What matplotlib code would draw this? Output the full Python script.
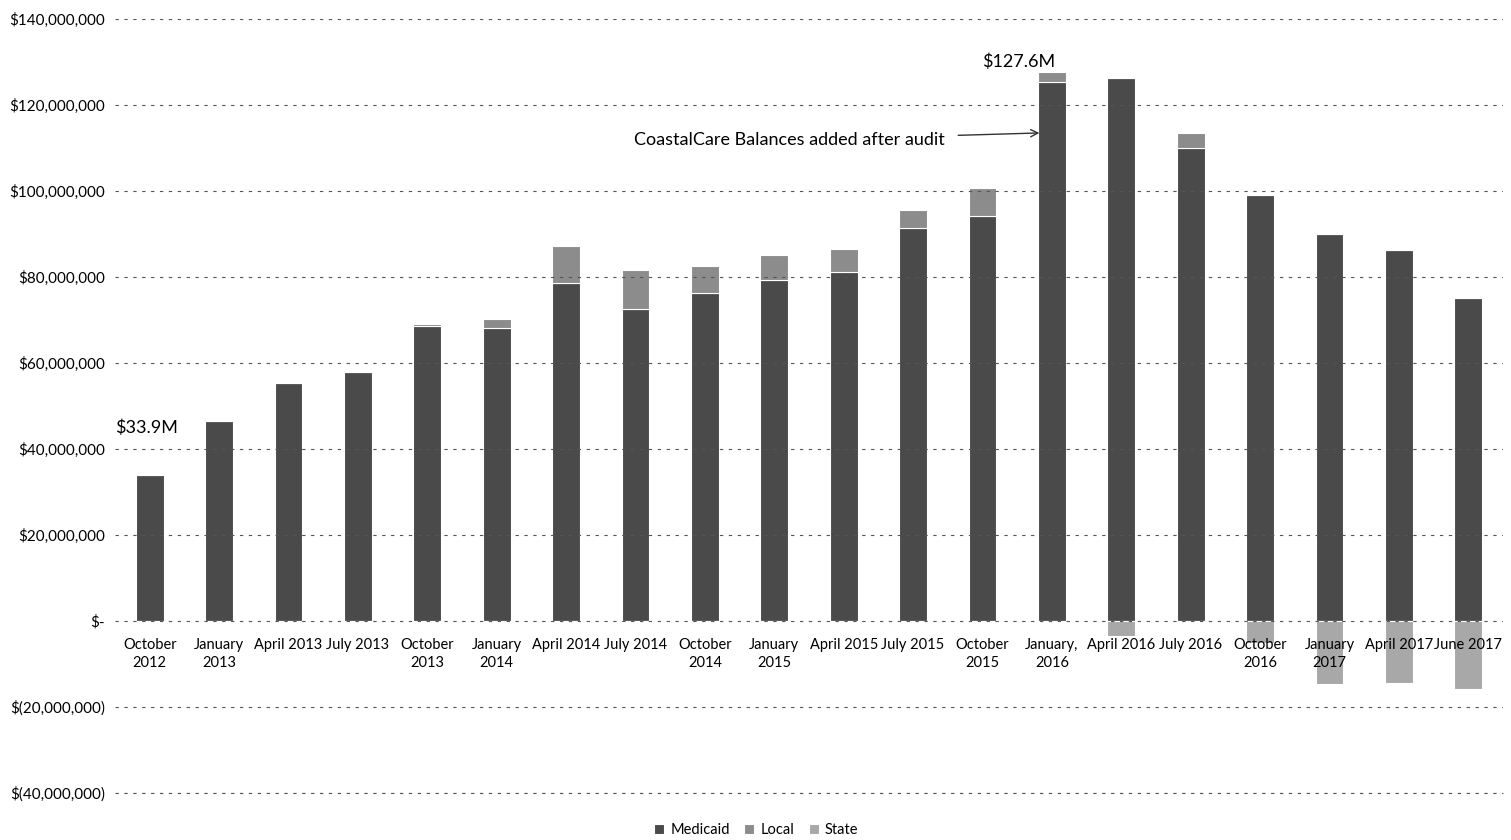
import numpy as np
import matplotlib.pyplot as plt
from matplotlib.ticker import FuncFormatter

# quarter labels on the x axis
periods = ['October\n2012', 'January\n2013', 'April 2013', 'July 2013', 'October\n2013',
           'January\n2014', 'April 2014', 'July 2014', 'October\n2014', 'January\n2015',
           'April 2015', 'July 2015', 'October\n2015', 'January,\n2016', 'April 2016',
           'July 2016', 'October\n2016', 'January\n2017', 'April 2017', 'June 2017']

# balances in $ millions
medicaid = [33.9, 46.5, 55.3, 57.9, 68.6, 68.1, 78.6, 72.5, 76.3, 79.3,
            81.2, 91.4, 94.2, 125.3, 126.3, 110.0, 99.1, 90.0, 86.3, 75.1]
local = [0.0, 0.0, 0.0, 0.0, 0.5, 2.1, 8.7, 9.1, 6.3, 5.8,
         5.3, 4.2, 6.5, 2.3, 0.0, 3.5, 0.0, 0.0, 0.0, 0.0]
state = [0.0, 0.0, 0.0, 0.0, 0.0, 0.0, 0.0, 0.0, 0.0, 0.0,
         0.0, 0.0, 0.0, 0.0, -3.6, 0.0, -5.0, -14.6, -14.4, -15.8]

plt.rcParams['font.family'] = ['Lato', 'DejaVu Sans']

fig = plt.figure(figsize=(15.11, 8.4), dpi=100)
ax = fig.add_axes([115 / 1511, 1 - 793 / 840, (1503 - 115) / 1511, (793 - 19) / 840])

x = np.arange(len(periods))
m = np.array(medicaid) * 1e6
l = np.array(local) * 1e6
s = np.array(state) * 1e6
w = 0.4

ax.bar(x, m, w, color='#4a4a4a', edgecolor='white', linewidth=0.8, label='Medicaid', zorder=1)
ax.bar(x, l, w, bottom=m, color='#8c8c8c', edgecolor='white', linewidth=0.8, label='Local', zorder=1)
ax.bar(x, s, w, color='#a8a8a8', edgecolor='white', linewidth=0.8, label='State', zorder=1)

ax.set_xlim(-0.5, len(periods) - 0.5)
ax.set_ylim(-40e6, 140e6)
ax.set_yticks(np.arange(-40e6, 140e6 + 1, 20e6))


def money(v, pos):
    if abs(v) < 1:
        return '$-'
    if v < 0:
        return '$({:,.0f})'.format(-v)
    return '${:,.0f}'.format(v)


ax.yaxis.set_major_formatter(FuncFormatter(money))
ax.grid(axis='y', color='#555555', linestyle=(0, (3, 5)), linewidth=0.8, zorder=0)
ax.axhline(-40e6, color='#555555', linestyle=(0, (3, 5)), linewidth=0.8, clip_on=False, zorder=0)

# category labels sit just under the zero line, drawn over the bars
ax.spines['bottom'].set_position(('data', 0))
for sp in ax.spines.values():
    sp.set_visible(False)
ax.set_xticks(x)
ax.set_xticklabels(periods, fontsize=10.5, linespacing=1.35)
ax.xaxis.set_zorder(5)
ax.tick_params(axis='both', length=0)
ax.tick_params(axis='y', labelsize=11, pad=7)
ax.tick_params(axis='x', pad=12)

ax.text(-0.5, 45e6, '$33.9M', fontsize=13, ha='left', va='center')
ax.text(13 - 0.48, 130e6, '$127.6M', fontsize=13, ha='center', va='center')
ax.annotate('CoastalCare Balances added after audit', xy=(12.82, 113.5e6), xytext=(11.45, 111.8e6),
            fontsize=13, ha='right', va='center',
            arrowprops=dict(arrowstyle='->', color='#333333', lw=1.0, shrinkA=8, shrinkB=0))

ax.legend(loc='upper center', bbox_to_anchor=(0.5 - 0.5 * 115 / 1511, -0.022), ncol=3, frameon=False,
          fontsize=10.5, handlelength=0.7, handleheight=0.7, columnspacing=1.0, handletextpad=0.4)

fig.savefig('out.png', dpi=100)
